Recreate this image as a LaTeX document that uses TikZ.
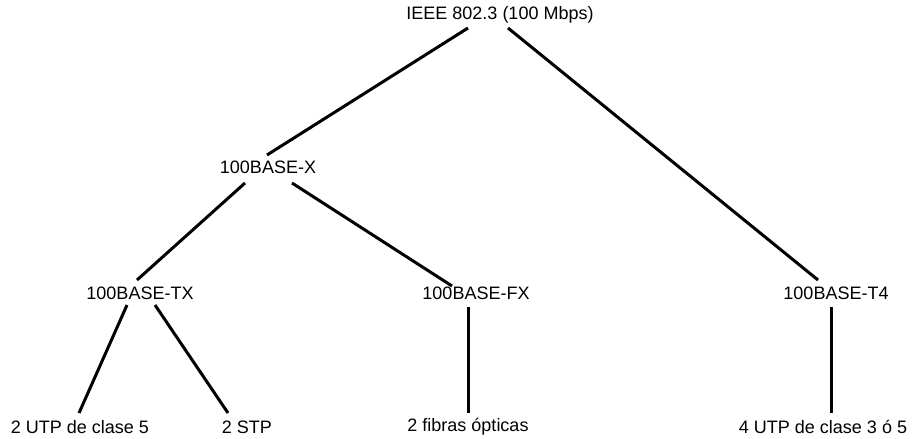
\documentclass[tikz,border=0pt]{standalone}
\usepackage{fontspec}
\setmainfont{Liberation Sans}
\usetikzlibrary{calc}
\begin{document}
\begin{tikzpicture}[x=1pt,y=-1pt,
  lbl/.style={inner sep=0pt,anchor=center,font=\fontsize{18}{20}\selectfont},
  link/.style={line width=3pt,black}]
\useasboundingbox (0,0) rectangle (916,439);
\node[lbl] (root) at (500,15) {IEEE 802.3 (100 Mbps)};
\node[lbl] (x) at (268,167) {100BASE-X};
\node[lbl] (tx) at (140,293) {100BASE-TX};
\node[lbl] (fx) at (476,293) {100BASE-FX};
\node[lbl] (t4) at (836,293) {100BASE-T4};
\node[lbl] (utp5) at (80,427) {2 UTP de clase 5};
\node[lbl] (stp) at (247,427) {2 STP};
\node[lbl] (fib) at (468,427) {2 fibras ópticas};
\node[lbl] (utp35) at (823,427) {4 UTP de clase 3 ó 5};
\draw[link] ($(root)+(-32,13)$) -- ($(x)+(-1,-12)$);
\draw[link] ($(root)+(8,13)$) -- ($(t4)+(-18,-13)$);
\draw[link] ($(x)+(-23,16)$) -- ($(tx)+(-3,-13)$);
\draw[link] ($(x)+(24,16)$) -- ($(fx)+(-24,-7)$);
\draw[link] ($(tx)+(-13,12)$) -- ($(utp5)+(-1,-14)$);
\draw[link] ($(tx)+(15,12)$) -- ($(stp)+(-19,-14)$);
\draw[link] ($(fx)+(-8,14)$) -- ($(fib)+(0,-14)$);
\draw[link] ($(t4)+(-5,14)$) -- ($(utp35)+(8,-14)$);
\end{tikzpicture}
\end{document}
